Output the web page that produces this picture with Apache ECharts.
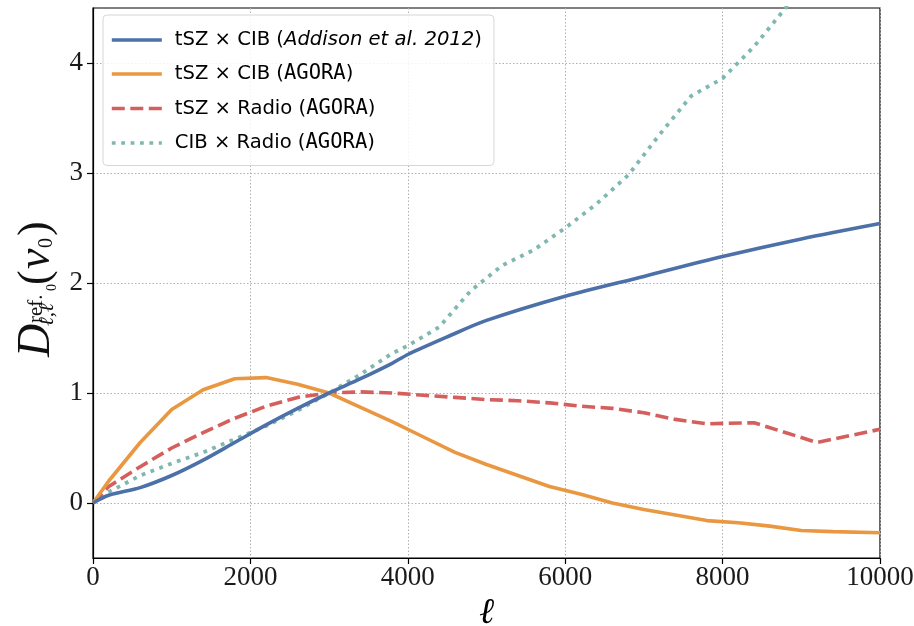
<!DOCTYPE html>
<html>
<head>
<meta charset="utf-8">
<script src="https://cdn.jsdelivr.net/npm/echarts@6/dist/echarts.min.js"></script>
<style>
  html, body { margin: 0; padding: 0; background: #fff; }
  #chart { width: 914px; height: 626px; }
</style>
</head>
<body>
<div id="chart"></div>
<script>
// series names
const seriesNames = [
  "tSZ × CIB (Addison et al. 2012)",
  "tSZ × CIB (AGORA)",
  "tSZ × Radio (AGORA)",
  "CIB × Radio (AGORA)",
];

// tSZ x CIB, Addison et al. 2012
const addisonEll = [0, 200, 600, 1000, 1400, 1800, 2200, 2600, 3000, 3400, 3800, 4000, 4500, 5000, 6000, 7000, 8000, 9000, 10000];
const addisonVal = [0, 0.07, 0.14, 0.25, 0.39, 0.55, 0.71, 0.86, 1.0, 1.13, 1.27, 1.35, 1.51, 1.66, 1.88, 2.06, 2.24, 2.40, 2.54];

// tSZ x CIB, AGORA
const tszCibEll = [0, 200, 600, 1000, 1400, 1800, 2200, 2600, 3000, 3400, 3800, 4200, 4600, 5000, 5400, 5800, 6200, 6600, 7000, 7400, 7800, 8200, 8600, 9000, 9400, 10000];
const tszCibVal = [0, 0.2, 0.55, 0.85, 1.03, 1.13, 1.14, 1.08, 1.0, 0.87, 0.74, 0.6, 0.46, 0.35, 0.25, 0.15, 0.08, 0.0, -0.06, -0.11, -0.16, -0.18, -0.21, -0.25, -0.26, -0.27];

// tSZ x Radio, AGORA
const tszRadioEll = [0, 200, 600, 1000, 1400, 1800, 2200, 2600, 3000, 3400, 3800, 4200, 4600, 5000, 5400, 5800, 6200, 6600, 7000, 7400, 7800, 8400, 9200, 10000];
const tszRadioVal = [0, 0.15, 0.33, 0.5, 0.64, 0.77, 0.88, 0.96, 1.0, 1.01, 1.0, 0.98, 0.96, 0.94, 0.93, 0.91, 0.88, 0.86, 0.82, 0.76, 0.72, 0.73, 0.55, 0.67];

// CIB x Radio, AGORA
const cibRadioEll = [0, 200, 600, 1000, 1400, 1800, 2200, 2600, 3000, 3400, 3800, 4000, 4400, 4800, 5200, 5600, 6000, 6400, 6800, 7200, 7600, 8000, 8400, 8800, 9200];
const cibRadioVal = [0, 0.1, 0.25, 0.36, 0.46, 0.58, 0.7, 0.84, 1.0, 1.17, 1.36, 1.43, 1.6, 1.93, 2.16, 2.3, 2.5, 2.72, 2.98, 3.35, 3.7, 3.86, 4.15, 4.5, 4.85];

const yTicks = [0, 1, 2, 3, 4];

const zip = (a, b) => a.map((x, i) => [x, b[i]]);

const serif = "'Liberation Serif', 'DejaVu Serif', serif";
const sans = "'DejaVu Sans', 'Liberation Sans', sans-serif";
const mono = "'DejaVu Sans Mono', 'Liberation Mono', monospace";

const legendLabel = (name) => {
  if (name.indexOf("Addison") >= 0) {
    return "{n|tSZ × CIB (}{i|Addison et al. 2012}{n|)}";
  }
  const m = name.match(/^(.*)\(AGORA\)$/);
  return "{n|" + m[1] + "(}{m|AGORA}{n|)}";
};

// little helper for the y axis title pieces (rotated group below)
const ylabPart = (text, x, y, fontSize, italic) => ({
  type: "text",
  x: x,
  y: y,
  style: {
    text: text,
    fontFamily: serif,
    fontStyle: italic ? "italic" : "normal",
    fontSize: fontSize,
    fill: "#111",
    verticalAlign: "bottom",
  },
});

const myChart = echarts.init(document.getElementById("chart"), null, { renderer: "canvas" });

const option = {
  animation: false,
  grid: {
    left: 93,
    right: 34,
    top: 8,
    bottom: 68,
    show: true,
    borderColor: "#000",
    borderWidth: 1.2,
    containLabel: false,
    outerBoundsMode: "none",
  },
  legend: {
    orient: "vertical",
    left: 103,
    top: 15,
    padding: [15, 12, 12, 7],
    itemWidth: 50,
    itemHeight: 14,
    itemGap: 13.5,
    backgroundColor: "rgba(255,255,255,0.85)",
    borderColor: "#d6d6d6",
    borderWidth: 1,
    borderRadius: 4,
    data: seriesNames,
    formatter: legendLabel,
    itemStyle: { opacity: 0 },
    lineStyle: { width: 3.6 },
    textStyle: {
      padding: [0, 0, 0, 8],
      rich: {
        n: { fontFamily: sans, fontSize: 19.6, color: "#000" },
        i: { fontFamily: sans, fontSize: 19.6, fontStyle: "italic", color: "#000" },
        m: { fontFamily: mono, fontSize: 20.5, color: "#000" },
      },
    },
  },
  xAxis: {
    type: "value",
    min: 0,
    max: 10000,
    interval: 2000,
    name: "ℓ",
    nameLocation: "middle",
    nameGap: 28,
    nameTextStyle: { fontFamily: serif, fontStyle: "italic", fontSize: 36, color: "#000" },
    axisLine: { show: true, onZero: false, lineStyle: { color: "#000", width: 1.2 } },
    axisTick: { show: true, inside: false, length: 6, lineStyle: { color: "#000", width: 1.2 } },
    axisLabel: {
      margin: 6,
      fontFamily: serif,
      fontSize: 27,
      color: "#1a1a1a",
      formatter: (v) => String(v),
    },
    splitLine: { show: true, lineStyle: { color: "#b0b0b0", type: [1.5, 2], width: 1 } },
  },
  yAxis: {
    type: "value",
    min: -0.5,
    max: 4.5,
    axisLine: { show: true, onZero: false, lineStyle: { color: "#000", width: 1.2 } },
    axisTick: {
      show: true,
      inside: false,
      length: 6,
      customValues: yTicks,
      lineStyle: { color: "#000", width: 1.2 },
    },
    axisLabel: {
      margin: 10,
      fontFamily: serif,
      fontSize: 27,
      color: "#1a1a1a",
      customValues: yTicks,
    },
    splitLine: { show: true, lineStyle: { color: "#b0b0b0", type: [1.5, 2], width: 1 } },
  },
  graphic: [
    {
      type: "group",
      x: 50,
      y: 357,
      rotation: Math.PI / 2,
      children: [
        ylabPart("D", 0, 10, 46, true),
        ylabPart("ref.", 34, -3.5, 21, false),
        ylabPart("ℓ,ℓ", 31, 7.5, 21, true),
        ylabPart("0", 66, 9, 14, false),
        ylabPart("(", 72, 8, 44, false),
        ylabPart("ν", 88, 10, 46, true),
        ylabPart("0", 109, 6.5, 20, false),
        ylabPart(")", 121, 8, 44, false),
      ],
    },
  ],
  series: [
    {
      name: seriesNames[0],
      type: "line",
      data: zip(addisonEll, addisonVal),
      smooth: 0.3,
      symbol: "none",
      clip: true,
      lineStyle: { color: "#4c70a8", width: 3.6 },
      itemStyle: { color: "#4c70a8" },
      z: 4,
    },
    {
      name: seriesNames[1],
      type: "line",
      data: zip(tszCibEll, tszCibVal),
      symbol: "none",
      clip: true,
      lineStyle: { color: "#e99741", width: 3.6 },
      itemStyle: { color: "#e99741" },
      z: 3,
    },
    {
      name: seriesNames[2],
      type: "line",
      data: zip(tszRadioEll, tszRadioVal),
      symbol: "none",
      clip: true,
      lineStyle: { color: "#d45f5c", width: 3.6, type: [13, 5.5], cap: "butt" },
      itemStyle: { color: "#d45f5c" },
      z: 2,
    },
    {
      name: seriesNames[3],
      type: "line",
      data: zip(cibRadioEll, cibRadioVal),
      symbol: "none",
      clip: true,
      lineStyle: { color: "#7fb8b0", width: 3.8, type: [3.8, 5.6], cap: "butt" },
      itemStyle: { color: "#7fb8b0" },
      z: 1,
    },
  ],
};

myChart.setOption(option);
</script>
</body>
</html>
